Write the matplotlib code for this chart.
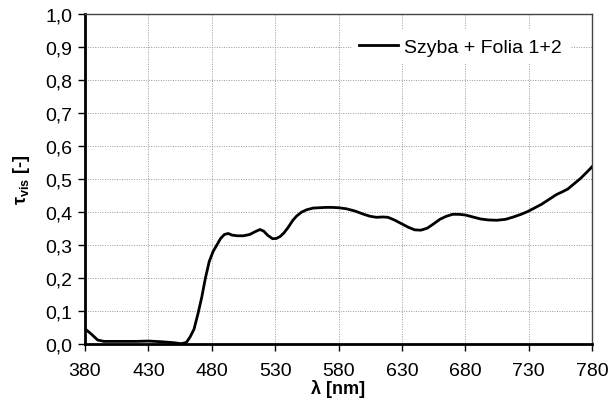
import numpy as np
import matplotlib
matplotlib.use("Agg")
import matplotlib.pyplot as plt
from matplotlib.ticker import FuncFormatter

# dane
wavelength = [380, 385, 390, 395, 400, 410, 420, 430, 440, 450, 456, 460, 463, 466,
              469, 472, 475, 478, 481, 484, 487, 490, 493, 496, 500, 505, 510, 514,
              518, 521, 524, 528, 531, 534, 537, 540, 544, 547, 551, 555, 560, 565,
              570, 575, 580, 586, 593, 600, 605, 610, 615, 619, 624, 629, 635, 640,
              645, 650, 655, 660, 665, 670, 675, 680, 686, 692, 698, 705, 712, 718,
              724, 729, 735, 740, 746, 752, 757, 761, 766, 771, 776, 780]
tau_vis = [0.046, 0.030, 0.012, 0.008, 0.008, 0.008, 0.008, 0.009, 0.007, 0.004, 0.001,
           0.005, 0.022, 0.045, 0.090, 0.140, 0.200, 0.250, 0.280, 0.300, 0.320, 0.332,
           0.335, 0.330, 0.328, 0.328, 0.332, 0.340, 0.347, 0.342, 0.330, 0.319, 0.320,
           0.326, 0.337, 0.352, 0.375, 0.388, 0.400, 0.407, 0.412, 0.413, 0.414, 0.414,
           0.413, 0.410, 0.403, 0.393, 0.387, 0.384, 0.385, 0.384, 0.376, 0.366, 0.354,
           0.346, 0.345, 0.351, 0.364, 0.378, 0.387, 0.393, 0.393, 0.391, 0.385, 0.379,
           0.376, 0.375, 0.378, 0.385, 0.393, 0.401, 0.413, 0.423, 0.438, 0.453, 0.462,
           0.470, 0.486, 0.502, 0.521, 0.537]
series_label = "Szyba + Folia 1+2"
x_ticks = list(range(380, 781, 50))
y_ticks = [i / 10 for i in range(11)]

plt.rcParams['font.family'] = ['Liberation Sans', 'DejaVu Sans']
plt.rcParams['mathtext.fontset'] = 'custom'
plt.rcParams['mathtext.rm'] = 'Liberation Sans'
plt.rcParams['mathtext.bf'] = 'Liberation Sans:bold'

fig = plt.figure(figsize=(6.09, 4.06), dpi=100)
ax = fig.add_axes([0.1396, 0.1502, 0.8325, 0.8128])

ax.plot(wavelength, tau_vis, color="black", lw=2, label=series_label, zorder=3)

ax.set_xlim(380, 780)
ax.set_ylim(0, 1.0)
ax.set_xticks(x_ticks)
ax.set_yticks(y_ticks)
ax.yaxis.set_major_formatter(FuncFormatter(lambda v, p: f"{v:.1f}".replace(".", ",")))
ax.tick_params(axis="both", labelsize=14, direction="out", length=5, width=1, colors="black")
ax.tick_params(axis="x", pad=8)
ax.tick_params(axis="y", pad=4)

ax.grid(True, color="#999999", lw=0.7, linestyle=(0, (1, 1.5)))
ax.set_axisbelow(True)

for s in ["left", "bottom"]:
    ax.spines[s].set_linewidth(2)
    ax.spines[s].set_color("black")
for s in ["top", "right"]:
    ax.spines[s].set_linewidth(1)
    ax.spines[s].set_color("#444444")

ax.set_xlabel("λ [nm]", fontsize=13, fontweight="bold", labelpad=0)
ax.set_ylabel(r"τ$_{\mathbf{vis}}$ [-]", fontsize=13, fontweight="bold", labelpad=10)

leg = ax.legend(loc="upper right", bbox_to_anchor=(0.975, 0.98), fontsize=14,
                frameon=True, fancybox=False, handlelength=2.0, handletextpad=0.3)
leg.get_frame().set_facecolor("white")
leg.get_frame().set_edgecolor("none")
leg.get_frame().set_alpha(1)

fig.savefig("out.png", dpi=100)
